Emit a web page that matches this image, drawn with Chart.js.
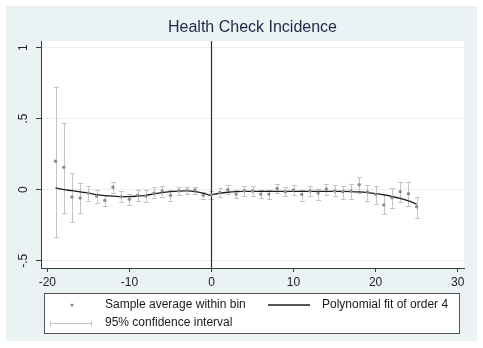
<!DOCTYPE html>
<html>
<head>
<meta charset="utf-8">
<script src="https://cdn.jsdelivr.net/npm/chart.js@4.4.1/dist/chart.umd.min.js"></script>
<style>
  html, body { margin: 0; padding: 0; background: #ffffff; }
  canvas { display: block; }
</style>
</head>
<body>
<canvas id="c" width="483" height="348"></canvas>
<script>
// Running variable bins (distance from cutoff)
const bins = [-19, -18, -17, -16, -15, -14, -13, -12, -11, -10, -9, -8, -7, -6, -5, -4, -3, -2, -1,
              0, 1, 2, 3, 4, 5, 6, 7, 8, 9, 10, 11, 12, 13, 14, 15, 16, 17, 18, 19, 20, 21, 22, 23, 24, 25];

// Sample average within each bin
const binMeans = [0.200, 0.157, -0.052, -0.059, -0.024, -0.045, -0.075, 0.017, -0.049, -0.068,
                  -0.038, -0.045, -0.024, -0.009, -0.040, -0.007, -0.005, -0.002, -0.040,
                  -0.035, -0.019, 0.000, -0.031, -0.007, -0.009, -0.031, -0.031, 0.009, -0.014, -0.002,
                  -0.033, -0.009, -0.024, 0.005, -0.009, -0.014, -0.009, 0.035, -0.016, -0.033,
                  -0.108, -0.056, -0.014, -0.028, -0.120];

// 95% confidence interval bounds
const ciLow = [-0.334, -0.165, -0.230, -0.163, -0.078, -0.094, -0.118, -0.024, -0.090, -0.111,
               -0.082, -0.090, -0.059, -0.049, -0.078, -0.038, -0.033, -0.030, -0.064,
               -0.066, -0.052, -0.028, -0.061, -0.042, -0.042, -0.061, -0.068, -0.024, -0.047, -0.040,
               -0.078, -0.047, -0.071, -0.035, -0.042, -0.066, -0.066, -0.024, -0.082, -0.099,
               -0.174, -0.127, -0.085, -0.113, -0.198];
const ciHigh = [0.725, 0.470, 0.115, 0.047, 0.024, -0.005, -0.038, 0.054, -0.012, -0.030,
                0.000, -0.002, 0.017, 0.028, -0.005, 0.019, 0.021, 0.019, -0.014,
                -0.012, 0.009, 0.031, -0.005, 0.024, 0.024, 0.000, -0.005, 0.040, 0.019, 0.033,
                0.000, 0.024, 0.007, 0.040, 0.033, 0.024, 0.042, 0.087, 0.033, 0.024,
                -0.033, 0.009, 0.056, 0.052, -0.054];

// Quartic fit, left of the cutoff
const fitLeftX = [-19, -18, -17, -16, -15, -14, -13, -12, -11, -10, -9, -8, -7, -6, -5, -4, -3, -2, -1, 0];
const fitLeftY = [0.012, 0.000, -0.007, -0.016, -0.024, -0.035, -0.042, -0.045, -0.049, -0.049,
                  -0.045, -0.040, -0.029, -0.020, -0.014, -0.010, -0.009, -0.014, -0.026, -0.042];

// Quartic fit, right of the cutoff
const fitRightX = [0, 1, 2, 3, 4, 5, 6, 7, 8, 9, 10, 11, 12, 13, 14, 15, 16, 17, 18, 19, 20, 21, 22, 23, 24, 25];
const fitRightY = [-0.035, -0.025, -0.018, -0.014, -0.012, -0.012, -0.012, -0.012, -0.012, -0.012,
                   -0.012, -0.012, -0.012, -0.012, -0.012, -0.012, -0.012, -0.013, -0.016, -0.021,
                   -0.028, -0.037, -0.048, -0.062, -0.079, -0.100];

// Axis ticks
const xTicks = [-20, -10, 0, 10, 20, 30];
const yTicks = [-0.5, 0, 0.5, 1];
const yTickLabels = ['-.5', '0', '.5', '1'];

const titleText = 'Health Check Incidence';
const legendLabels = ['Sample average within bin', 'Polynomial fit of order 4', '95% confidence interval'];

const FONT = '"Liberation Sans", Arial, Helvetica, sans-serif';
const OUTER_BG = '#eaf2f3';
const AXIS_COLOR = '#3a3a3a';
const POINT_COLOR = '#8c8c8c';
const CI_COLOR = '#c4c4c4';
const FIT_COLOR = '#1c1c1c';

const backgroundPlugin = {
  id: 'backgrounds',
  beforeDraw(chart) {
    const { ctx, chartArea: a } = chart;
    ctx.save();
    ctx.fillStyle = '#ffffff';
    ctx.fillRect(0, 0, chart.width, chart.height);
    ctx.fillStyle = OUTER_BG;
    ctx.fillRect(6, 6, 471, 335);
    ctx.fillStyle = '#ffffff';
    ctx.fillRect(a.left, a.top, a.right - a.left, a.bottom - a.top);
    ctx.restore();
  }
};

const overlayPlugin = {
  id: 'ciAndCutoff',
  beforeDatasetsDraw(chart) {
    const { ctx, chartArea: a } = chart;
    const xs = chart.scales.x, ys = chart.scales.y;
    ctx.save();
    // confidence interval whiskers with caps
    ctx.strokeStyle = CI_COLOR;
    ctx.lineWidth = 1;
    bins.forEach((b, i) => {
      const px = Math.round(xs.getPixelForValue(b)) + 0.5;
      const lo = ys.getPixelForValue(ciLow[i]);
      const hi = ys.getPixelForValue(ciHigh[i]);
      ctx.beginPath();
      ctx.moveTo(px, lo); ctx.lineTo(px, hi);
      ctx.moveTo(px - 2.5, Math.round(lo) + 0.5); ctx.lineTo(px + 2.5, Math.round(lo) + 0.5);
      ctx.moveTo(px - 2.5, Math.round(hi) + 0.5); ctx.lineTo(px + 2.5, Math.round(hi) + 0.5);
      ctx.stroke();
    });
    // cutoff line
    const cx = Math.round(xs.getPixelForValue(0)) + 0.5;
    ctx.strokeStyle = '#2e2e2e';
    ctx.lineWidth = 1.2;
    ctx.beginPath();
    ctx.moveTo(cx, a.top); ctx.lineTo(cx, a.bottom);
    ctx.stroke();
    ctx.restore();
  },
  afterDraw(chart) {
    const { ctx, chartArea: a } = chart;
    const ys = chart.scales.y;
    ctx.save();
    // title
    ctx.fillStyle = '#1c2a48';
    ctx.font = '16px ' + FONT;
    ctx.textAlign = 'center';
    ctx.textBaseline = 'middle';
    ctx.fillText(titleText, (a.left + a.right) / 2, 28);

    // rotated y tick labels
    ctx.fillStyle = '#222222';
    ctx.font = '12px ' + FONT;
    yTicks.forEach((v, i) => {
      const py = ys.getPixelForValue(v);
      ctx.save();
      ctx.translate(23.5, py);
      ctx.rotate(-Math.PI / 2);
      ctx.textAlign = 'center';
      ctx.textBaseline = 'middle';
      ctx.fillText(yTickLabels[i], 0, 0);
      ctx.restore();
    });

    // legend box
    const L = 44, T = 293, R = 460, B = 334;
    ctx.fillStyle = '#ffffff';
    ctx.fillRect(L, T, R - L, B - T);
    ctx.strokeStyle = '#555555';
    ctx.lineWidth = 1;
    ctx.strokeRect(L + 0.5, T + 0.5, R - L - 1, B - T - 1);

    const row1 = 305, row2 = 323;
    // point key
    ctx.fillStyle = POINT_COLOR;
    ctx.beginPath();
    ctx.arc(72, row1, 1.5, 0, Math.PI * 2);
    ctx.fill();
    // fit key
    ctx.strokeStyle = FIT_COLOR;
    ctx.lineWidth = 1.3;
    ctx.beginPath();
    ctx.moveTo(268, row1); ctx.lineTo(310, row1);
    ctx.stroke();
    // CI key
    ctx.strokeStyle = CI_COLOR;
    ctx.lineWidth = 1;
    ctx.beginPath();
    ctx.moveTo(50, row2 + 0.5); ctx.lineTo(92, row2 + 0.5);
    ctx.moveTo(50.5, row2 - 2); ctx.lineTo(50.5, row2 + 3);
    ctx.moveTo(91.5, row2 - 2); ctx.lineTo(91.5, row2 + 3);
    ctx.stroke();

    ctx.fillStyle = '#1a1a1a';
    ctx.font = '12px ' + FONT;
    ctx.textAlign = 'left';
    ctx.textBaseline = 'middle';
    ctx.fillText(legendLabels[0], 105, row1);
    ctx.fillText(legendLabels[1], 322, row1);
    ctx.fillText(legendLabels[2], 105, row2);
    ctx.restore();
  }
};

new Chart(document.getElementById('c'), {
  type: 'scatter',
  data: {
    datasets: [
      {
        type: 'scatter',
        data: bins.map((b, i) => ({ x: b, y: binMeans[i] })),
        pointRadius: 1.7,
        pointBackgroundColor: POINT_COLOR,
        pointBorderWidth: 0,
        order: 0
      },
      {
        type: 'line',
        data: fitLeftX.map((x, i) => ({ x, y: fitLeftY[i] })),
        borderColor: FIT_COLOR,
        borderWidth: 1.3,
        pointRadius: 0,
        tension: 0.4,
        fill: false,
        order: 1
      },
      {
        type: 'line',
        data: fitRightX.map((x, i) => ({ x, y: fitRightY[i] })),
        borderColor: FIT_COLOR,
        borderWidth: 1.3,
        pointRadius: 0,
        tension: 0.4,
        fill: false,
        order: 1
      }
    ]
  },
  options: {
    responsive: false,
    animation: false,
    devicePixelRatio: 1,
    layout: { padding: { left: 11, right: 19, top: 41, bottom: 0 } },
    plugins: { legend: { display: false }, tooltip: { enabled: false }, title: { display: false } },
    scales: {
      x: {
        type: 'linear',
        min: -20.77,
        max: 30.77,
        afterBuildTicks: s => { s.ticks = xTicks.map(v => ({ value: v })); },
        afterFit: s => { s.height = 80; },
        ticks: {
          color: '#222222',
          font: { family: FONT, size: 12 },
          padding: 3,
          maxRotation: 0,
          autoSkip: false,
          callback: v => String(v)
        },
        grid: { drawOnChartArea: false, drawTicks: true, tickLength: 4, tickColor: AXIS_COLOR },
        border: { display: true, color: AXIS_COLOR, width: 1 }
      },
      y: {
        type: 'linear',
        min: -0.551,
        max: 1.046,
        afterBuildTicks: s => { s.ticks = yTicks.map(v => ({ value: v })); },
        afterFit: s => { s.width = 30; },
        ticks: { display: false },
        grid: { drawOnChartArea: true, color: '#e6eff1', lineWidth: 1, drawTicks: true, tickLength: 5, tickColor: AXIS_COLOR },
        border: { display: true, color: AXIS_COLOR, width: 1 }
      }
    }
  },
  plugins: [backgroundPlugin, overlayPlugin]
});
</script>
</body>
</html>
